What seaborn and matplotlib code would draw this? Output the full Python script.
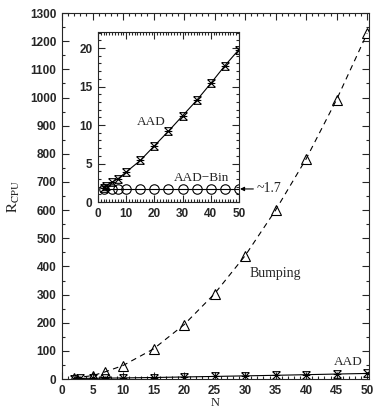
import numpy as np
import pandas as pd
import matplotlib
matplotlib.use("Agg")
import matplotlib.pyplot as plt
from matplotlib.path import Path
from matplotlib.ticker import MultipleLocator
import seaborn as sns

# ---- data ----
n_bump = [2, 5, 7, 10, 15, 20, 25, 30, 35, 40, 45, 50]
r_bump = [4, 12, 25, 48, 107, 193, 303, 438, 600, 782, 993, 1228]

n_aad = [2, 3, 5, 7, 10, 15, 20, 25, 30, 35, 40, 45, 50]
r_aad = [1.8, 2.1, 2.6, 3.0, 3.9, 5.4, 7.3, 9.2, 11.2, 13.2, 15.4, 17.7, 19.8]

n_bin = [2, 5, 7, 10, 15, 20, 25, 30, 35, 40, 45, 50]
r_bin = [1.7, 1.7, 1.7, 1.7, 1.7, 1.7, 1.7, 1.7, 1.7, 1.7, 1.7, 1.7]

df_bump = pd.DataFrame({"N": n_bump, "R": r_bump})
df_aad = pd.DataFrame({"N": n_aad, "R": r_aad})
df_bin = pd.DataFrame({"N": n_bin, "R": r_bin})

sns.set_style("ticks")
plt.rcParams["font.family"] = ["Liberation Sans", "DejaVu Sans"]
plt.rcParams["mathtext.fontset"] = "stix"

# custom star-like marker (X with horizontal bars)
star = Path([(-1, 1), (1, -1), (-1, -1), (1, 1), (-1, 1), (1, 1), (-1, 0), (1, 0), (-1, -1), (1, -1)],
            [Path.MOVETO, Path.LINETO, Path.MOVETO, Path.LINETO, Path.MOVETO, Path.LINETO,
             Path.MOVETO, Path.LINETO, Path.MOVETO, Path.LINETO])

fig = plt.figure(figsize=(3.75, 4.09), dpi=100)
ax = fig.add_axes([0.1653, 0.0733, 0.8187, 0.8947])

sns.lineplot(data=df_bump, x="N", y="R", ax=ax, color="black", linestyle=(0, (5, 4)),
             linewidth=0.8, marker="^", markersize=6.5, markerfacecolor="none",
             markeredgecolor="black", markeredgewidth=0.8)
sns.lineplot(data=df_aad, x="N", y="R", ax=ax, color="black", linewidth=0.8,
             marker=star, markersize=5.5, markerfacecolor="none",
             markeredgecolor="black", markeredgewidth=0.8)

ax.set_xlim(0, 50.3)
ax.set_ylim(0, 1300)
ax.xaxis.set_major_locator(MultipleLocator(5))
ax.xaxis.set_minor_locator(MultipleLocator(1))
ax.yaxis.set_major_locator(MultipleLocator(100))
ax.yaxis.set_minor_locator(MultipleLocator(50))
ax.tick_params(which="both", direction="in", top=True, right=True, width=0.8,
               labelsize=8.5, pad=4)
ax.tick_params(which="major", length=5)
ax.tick_params(which="minor", length=2.5)
for lab in ax.get_xticklabels() + ax.get_yticklabels():
    lab.set_fontweight("bold")
for s in ax.spines.values():
    s.set_linewidth(0.8)
ax.set_xlabel("N", fontfamily="Liberation Serif", fontsize=9, labelpad=0)
ax.set_ylabel(r"$\mathrm{R_{CPU}}$", fontsize=11, labelpad=6)

ax.text(34.9, 376, "Bumping", fontfamily="Liberation Serif", fontsize=10,
        ha="center", va="center")
ax.text(46.9, 60, "AAD", fontfamily="Liberation Serif", fontsize=9.5,
        ha="center", va="center")

# inset
axi = fig.add_axes([0.2613, 0.506, 0.3757, 0.416])
sns.lineplot(data=df_aad, x="N", y="R", ax=axi, color="black", linewidth=0.8,
             marker=star, markersize=5.5, markerfacecolor="none",
             markeredgecolor="black", markeredgewidth=0.8)
sns.lineplot(data=df_bin, x="N", y="R", ax=axi, color="black", linewidth=0.8,
             marker="o", markersize=6.8, markerfacecolor="none",
             markeredgecolor="black", markeredgewidth=0.8)
axi.set_xlim(0, 50)
axi.set_ylim(0, 22.1)
axi.xaxis.set_major_locator(MultipleLocator(10))
axi.xaxis.set_minor_locator(MultipleLocator(1))
axi.yaxis.set_major_locator(MultipleLocator(5))
axi.yaxis.set_minor_locator(MultipleLocator(1))
axi.tick_params(which="both", direction="in", top=True, right=True, width=0.8,
                labelsize=8.5, pad=4)
axi.tick_params(which="major", length=5)
axi.tick_params(which="minor", length=2.5)
for lab in axi.get_xticklabels() + axi.get_yticklabels():
    lab.set_fontweight("bold")
for s in axi.spines.values():
    s.set_linewidth(0.8)
axi.set_xlabel("")
axi.set_ylabel("")
axi.text(18.8, 10.4, "AAD", fontfamily="Liberation Serif", fontsize=9.5,
         ha="center", va="center")
axi.text(36.9, 3.1, "AAD\u2212Bin", fontfamily="Liberation Serif", fontsize=9.5,
         ha="center", va="center")
axi.annotate("~1.7", xy=(50.4, 1.7), xytext=(56.3, 1.7), textcoords="data",
             fontfamily="Liberation Serif", fontsize=10, va="center", ha="left",
             annotation_clip=False,
             arrowprops=dict(arrowstyle="-|>", color="black", lw=0.8,
                             mutation_scale=6, shrinkA=0, shrinkB=0))

fig.savefig("out.png", dpi=100)
